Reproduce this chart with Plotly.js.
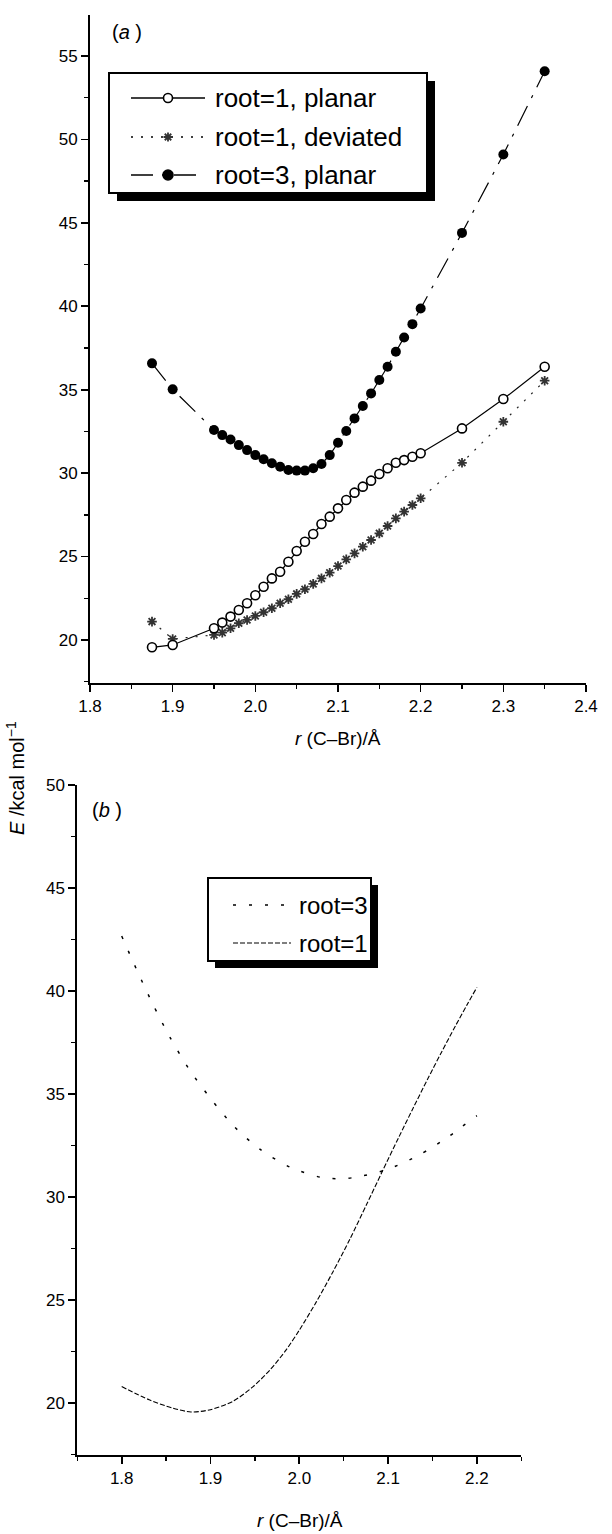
<!DOCTYPE html>
<html><head><meta charset="utf-8">
<script src="https://cdn.plot.ly/plotly-3.0.1.min.js"></script>
<style>html,body{margin:0;padding:0;background:#fff}#chart{width:612px;height:1534px}</style>
</head><body><div id="chart"></div>
<script>
// ---------- data (panel a) ----------
const rA = [1.875,1.90,1.95,1.96,1.97,1.98,1.99,2.00,2.01,2.02,2.03,2.04,2.05,2.06,2.07,2.08,2.09,2.10,2.11,2.12,2.13,2.14,2.15,2.16,2.17,2.18,2.19,2.20,2.25,2.30,2.35];
const E_root1_planar = [19.56,19.70,20.70,21.04,21.40,21.80,22.20,22.68,23.19,23.69,24.09,24.69,25.33,25.89,26.35,26.95,27.39,27.89,28.39,28.83,29.19,29.55,29.95,30.29,30.62,30.78,30.98,31.19,32.68,34.44,36.38];
const E_root1_deviated = [21.10,20.06,20.30,20.44,20.70,21.00,21.20,21.44,21.66,21.90,22.20,22.44,22.76,23.04,23.36,23.69,24.03,24.43,24.83,25.19,25.59,25.99,26.39,26.83,27.29,27.69,28.09,28.49,30.62,33.08,35.54];
const E_root3_planar = [36.58,35.02,32.58,32.28,32.02,31.68,31.38,31.08,30.83,30.59,30.38,30.19,30.15,30.15,30.29,30.55,31.08,31.82,32.52,33.28,34.02,34.78,35.58,36.38,37.28,38.13,38.93,39.87,44.40,49.10,54.09];
const namesA = ["root=1, planar","root=1, deviated","root=3, planar"];
// ---------- data (panel b) ----------
const rB_root3 = [1.800,1.817,1.835,1.854,1.876,1.900,1.926,1.956,1.990,2.025,2.044,2.062,2.099,2.135,2.168,2.183,2.200];
const EB_root3 = [42.67,41.02,39.37,37.78,36.20,34.79,33.45,32.31,31.44,30.95,30.89,30.95,31.34,32.04,32.93,33.41,33.95];
const rB_root1 = [1.800,1.831,1.857,1.878,1.900,1.925,1.948,1.967,1.985,2.000,2.019,2.038,2.057,2.076,2.093,2.112,2.128,2.144,2.160,2.176,2.189,2.200];
const EB_root1 = [20.80,20.16,19.76,19.57,19.68,20.08,20.80,21.61,22.57,23.54,24.90,26.38,27.96,29.66,31.20,32.90,34.30,35.68,37.02,38.32,39.34,40.18];
const namesB = ["root=3","root=1"];
const xTitle = "<i>r</i> (C–Br)/Å";
const yTitle = "<i>E</i> /kcal mol<sup>−1</sup>";

// ---------- styles ----------
const W = 612, H = 1534;
const FONT = "'Liberation Sans', Arial, Helvetica, sans-serif";
const INK = "#000";
const DASH_DEV = "2px,8px";
const DASH_R3A = "22px,9px,3px,9px";
const DASH_B3 = "3px,13px";
const DASH_B1 = "5px,2px";
const px = x => x / W;
const py = y => 1 - y / H;

const traces = [
  {x: rA, y: E_root1_deviated, name: namesA[1], type: "scatter", mode: "lines+markers",
   line: {color: "#222", width: 1.2, dash: DASH_DEV},
   marker: {symbol: "asterisk-open", size: 8, color: "#333", line: {color: "#333", width: 1.8}},
   xaxis: "x", yaxis: "y"},
  {x: rA, y: E_root1_planar, name: namesA[0], type: "scatter", mode: "lines+markers",
   line: {color: INK, width: 1.2},
   marker: {symbol: "circle", size: 9, color: "#fff", line: {color: INK, width: 1.6}},
   xaxis: "x", yaxis: "y"},
  {x: rA, y: E_root3_planar, name: namesA[2], type: "scatter", mode: "lines+markers",
   line: {color: INK, width: 1.2, dash: DASH_R3A},
   marker: {symbol: "circle", size: 10, color: INK},
   xaxis: "x", yaxis: "y"},
  {x: rB_root3, y: EB_root3, name: namesB[0], type: "scatter", mode: "lines",
   line: {color: INK, width: 1.5, dash: DASH_B3, shape: "spline", smoothing: 0.8},
   xaxis: "x2", yaxis: "y2"},
  {x: rB_root1, y: EB_root1, name: namesB[1], type: "scatter", mode: "lines",
   line: {color: INK, width: 1.1, dash: DASH_B1, shape: "spline", smoothing: 0.8},
   xaxis: "x2", yaxis: "y2"}
];

const axisCommon = {
  showline: true, linecolor: INK, linewidth: 2, showgrid: false, zeroline: false,
  ticks: "outside", ticklen: 7, tickwidth: 1.6, tickcolor: INK, automargin: false,
  tickfont: {family: FONT, size: 17, color: INK}, mirror: false
};
const minorCommon = {ticks: "outside", ticklen: 4, tickwidth: 1.4, tickcolor: INK};

// legend helpers (decoration only)
function rect(x0, y0, x1, y1, fill, lw) {
  return {type: "rect", xref: "paper", yref: "paper", x0: px(x0), x1: px(x1), y0: py(y1), y1: py(y0),
          fillcolor: fill, line: {color: INK, width: lw}, layer: "above"};
}
function hline(x0, x1, y, dash, w) {
  return {type: "line", xref: "paper", yref: "paper", x0: px(x0), x1: px(x1), y0: py(y), y1: py(y),
          line: {color: INK, width: w, dash: dash || "solid"}, layer: "above"};
}
function circ(cx, cy, r, fill) {
  return {type: "circle", xref: "paper", yref: "paper", x0: px(cx - r), x1: px(cx + r), y0: py(cy + r), y1: py(cy - r),
          fillcolor: fill, line: {color: INK, width: 1.6}, layer: "above"};
}
function aster(cx, cy, r) {
  const d = r * 0.72;
  const p = (x, y) => px(x) + "," + py(y);
  const path = "M" + p(cx - r, cy) + "L" + p(cx + r, cy) +
               "M" + p(cx, cy - r) + "L" + p(cx, cy + r) +
               "M" + p(cx - d, cy - d) + "L" + p(cx + d, cy + d) +
               "M" + p(cx - d, cy + d) + "L" + p(cx + d, cy - d);
  return {type: "path", xref: "paper", yref: "paper", path: path, line: {color: "#333", width: 1.8}, layer: "above"};
}
function txt(text, x, y, size, anchor, extra) {
  return Object.assign({text: text, xref: "paper", yref: "paper", x: px(x), y: py(y), showarrow: false,
          xanchor: anchor || "left", yanchor: "middle", font: {family: FONT, size: size, color: INK}}, extra || {});
}

const shapes = [
  // legend (a)
  rect(117, 81, 435, 201, INK, 0),
  rect(109, 73, 427, 193, "#fff", 2),
  hline(131, 205, 98, "solid", 1.3),
  hline(131, 205, 137, DASH_DEV, 1.3),
  hline(131, 205, 175, DASH_R3A, 1.3),
  circ(168, 98, 4.5, "#fff"),
  aster(168, 137, 4.5),
  circ(168, 175, 5, INK),
  // legend (b)
  rect(215, 885, 378, 968, INK, 0),
  rect(208, 878, 371, 961, "#fff", 2),
  hline(233, 290, 905, DASH_B3, 1.5),
  hline(233, 291, 943, DASH_B1, 1.2)
];

const annotations = [
  txt(namesA[0], 213, 98, 26),
  txt(namesA[1], 213, 137, 26),
  txt(namesA[2], 213, 175, 26),
  txt(namesB[0], 297, 905, 24),
  txt(namesB[1], 297, 943, 24),
  txt("(<i>a</i> )", 110, 32, 20),
  txt("(<i>b</i> )", 90, 810, 20),
  txt(xTitle, 338, 738, 19, "center"),
  txt(xTitle, 300, 1520, 19, "center"),
  txt(yTitle, 15, 778, 20, "center", {textangle: -90})
];

const layout = {
  width: W, height: H, margin: {l: 0, r: 0, t: 0, b: 0},
  paper_bgcolor: "#fff", plot_bgcolor: "rgba(0,0,0,0)",
  showlegend: false, font: {family: FONT, color: INK},
  xaxis: Object.assign({}, axisCommon, {domain: [px(90), px(586)], anchor: "y", range: [1.8, 2.4],
          dtick: 0.1, tick0: 1.8, tickformat: ".1f", minor: Object.assign({dtick: 0.05}, minorCommon)}),
  yaxis: Object.assign({}, axisCommon, {domain: [py(683), py(15)], anchor: "x", range: [17.42, 57.46],
          dtick: 5, tick0: 0, minor: Object.assign({dtick: 2.5}, minorCommon)}),
  xaxis2: Object.assign({}, axisCommon, {domain: [px(77.3), px(521.3)], anchor: "y2", range: [1.75, 2.25],
          dtick: 0.1, tick0: 1.8, tickformat: ".1f", minor: Object.assign({dtick: 0.05}, minorCommon)}),
  yaxis2: Object.assign({}, axisCommon, {domain: [py(1455), py(785)], anchor: "x2", range: [17.48, 50],
          dtick: 5, tick0: 0, minor: Object.assign({dtick: 2.5}, minorCommon)}),
  shapes: shapes, annotations: annotations
};

Plotly.newPlot("chart", traces, layout, {staticPlot: true, displayModeBar: false});
</script>
</body></html>
